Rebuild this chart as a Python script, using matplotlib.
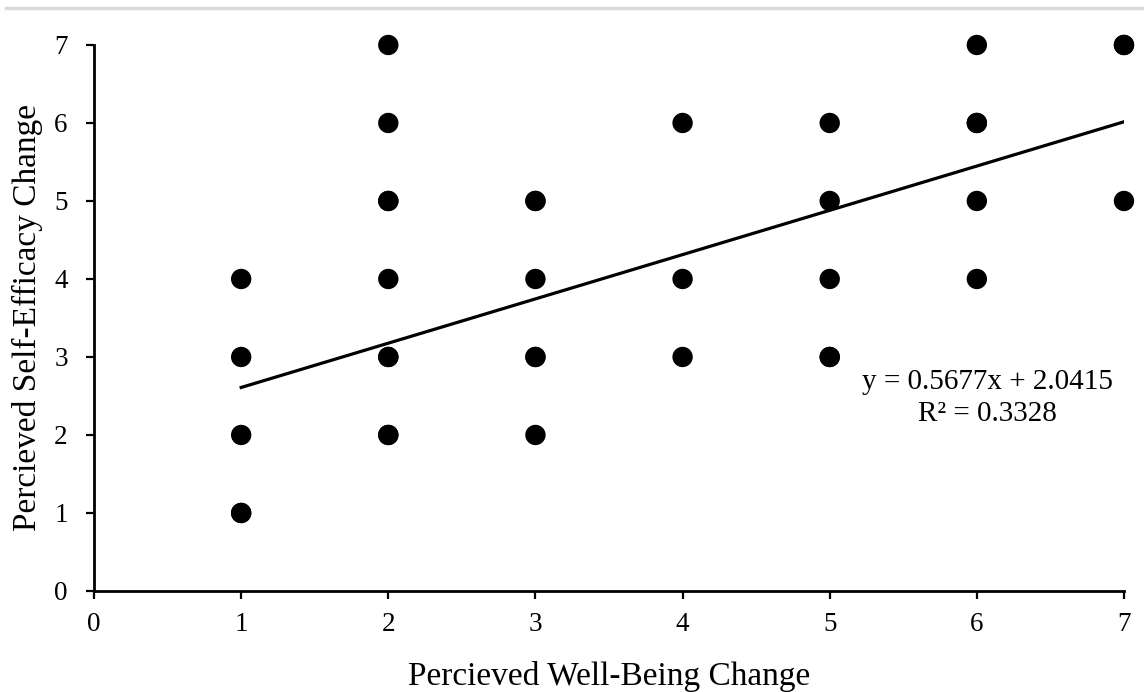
import matplotlib.pyplot as plt
from matplotlib.lines import Line2D

plt.rcParams['font.family'] = ['Liberation Serif', 'DejaVu Serif']

# observed points (some pairs repeat, which is why a few dots look heavier)
well_being = [1, 1, 1, 1, 1,
              2, 2, 2, 2, 2, 2, 2, 2, 2,
              3, 3, 3, 3, 3, 3,
              4, 4, 4,
              5, 5, 5, 5, 5,
              6, 6, 6, 6, 6,
              7, 7, 7]
self_efficacy = [4, 3, 2, 1, 1,
                 7, 6, 5, 5, 4, 3, 3, 2, 2,
                 5, 5, 4, 3, 3, 2,
                 6, 4, 3,
                 6, 5, 4, 3, 3,
                 7, 6, 6, 5, 4,
                 7, 7, 5]

slope = 0.5677
intercept = 2.0415
r_squared = 0.3328
trend_x = [1, 7]

fig = plt.figure(figsize=(11.44, 6.92), dpi=100)
ax = fig.add_axes([0.0822, 0.146, 0.9003, 0.789])

ax.scatter(well_being, self_efficacy, s=215, color='black', edgecolors='none',
           zorder=3, clip_on=False)
ax.plot(trend_x, [slope * x + intercept for x in trend_x], color='black', lw=2.3, zorder=2)

ax.text(6.07, 2.68, f'y = {slope}x + {intercept}', ha='center', va='center', fontsize=21)
ax.text(6.07, 2.27, f'R² = {r_squared}', ha='center', va='center', fontsize=21)

ax.set_xlim(0, 7)
ax.set_ylim(0, 7)
ax.set_xticks(range(8))
ax.set_yticks(range(8))
ax.tick_params(labelsize=19.5, width=1.6, length=6, direction='out')
ax.tick_params(axis='x', pad=9.5)
ax.tick_params(axis='y', pad=13)
for side in ['top', 'right']:
    ax.spines[side].set_visible(False)
for side in ['left', 'bottom']:
    ax.spines[side].set_linewidth(2)

ax.set_xlabel('Percieved Well-Being Change', fontsize=24, labelpad=17)
ax.set_ylabel('Percieved Self-Efficacy Change', fontsize=24, labelpad=8)

# thin grey rule across the top of the image
fig.add_artist(Line2D([0.005, 1], [0.988, 0.988], color='#d9d9d9', lw=2.5, transform=fig.transFigure))

fig.savefig('out.png', dpi=100)
